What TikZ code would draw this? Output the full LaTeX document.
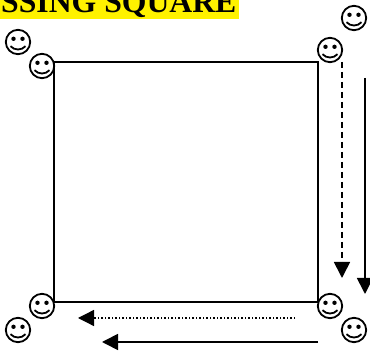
\documentclass[tikz,border=0pt]{standalone}
\usepackage{fontspec}
\setmainfont{Liberation Serif}
\usetikzlibrary{arrows.meta}
\tikzset{
  smiley/.pic={
    \draw[line width=1.8pt,fill=white] (0,0) circle (12.2);
    \fill (-4.5,-3.2) circle (2.2);
    \fill (4.5,-3.2) circle (2.2);
    \draw[line width=1.8pt] (-7.5,4.2) .. controls (-3.5,8.6) and (3.5,8.6) .. (7.5,4.2);
  },
  edgeline/.style={line width=1.9pt},
  flow/.style={line width=1.7pt,-{Triangle[length=16pt,width=16pt]}},
  titletext/.style={inner sep=0pt,anchor=base west,font=\bfseries\fontsize{31.7}{34}\selectfont}
}
\begin{document}
\begin{tikzpicture}[x=1pt,y=-1pt]
\useasboundingbox (0,0) rectangle (370,352);
\clip (0,0) rectangle (370,352);
\fill[yellow] (0,-2) rectangle (239,19.5);
\node[titletext] (title) at (1,13) {SSING SQUARE};
\coordinate (tl) at (54,62);
\coordinate (tr) at (318,62);
\coordinate (br) at (318,302);
\coordinate (bl) at (54,302);
\draw[edgeline] (tl) -- (tr) -- (br) -- (bl) -- cycle;
\pic at (18,42) {smiley};
\pic at (42,66) {smiley};
\pic at (354,18) {smiley};
\pic at (330,50) {smiley};
\pic at (330,306) {smiley};
\pic at (354,330) {smiley};
\pic at (42,306) {smiley};
\pic at (18,330) {smiley};
\coordinate (a1) at (342,62);
\coordinate (a2) at (342,278);
\coordinate (b1) at (365,78);
\coordinate (b2) at (365,294);
\coordinate (c1) at (295,318);
\coordinate (c2) at (78,318);
\coordinate (d1) at (318,342);
\coordinate (d2) at (102,342);
\draw[flow,dash pattern=on 6pt off 4pt] (a1) -- (a2);
\draw[flow] (b1) -- (b2);
\draw[flow,line width=1.3pt,dash pattern=on 1.5pt off 2pt] (c1) -- (c2);
\draw[flow] (d1) -- (d2);
\end{tikzpicture}
\end{document}
